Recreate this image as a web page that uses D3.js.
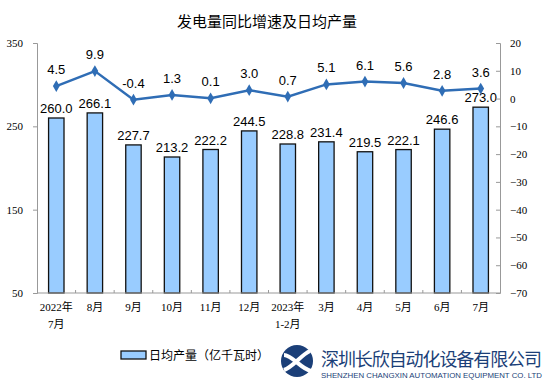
<!DOCTYPE html>
<html>
<head>
<meta charset="utf-8">
<script src="https://cdn.jsdelivr.net/npm/d3@7"></script>
<style>
  body { margin: 0; background: #fff; }
  svg { display: block; }
</style>
</head>
<body>
<svg id="chart" width="554" height="385"></svg>
<script>
// categories, two lines each
var months = [["2022年", "7月"], ["8月"], ["9月"], ["10月"], ["11月"], ["12月"],
              ["2023年", "1-2月"], ["3月"], ["4月"], ["5月"], ["6月"], ["7月"]];
var dailyOutput = [260.0, 266.1, 227.7, 213.2, 222.2, 244.5, 228.8, 231.4, 219.5, 222.1, 246.6, 273.0];
var yoyGrowth = [4.5, 9.9, -0.4, 1.3, 0.1, 3.0, 0.7, 5.1, 6.1, 5.6, 2.8, 3.6];
var leftTicks = [50, 150, 250, 350];
var rightTicks = [20, 10, 0, -10, -20, -30, -40, -50, -60, -70];

var svg = d3.select("#chart");
var margin = { top: 43, right: 54, bottom: 92, left: 37 };
var width = +svg.attr("width") - margin.left - margin.right;
var height = +svg.attr("height") - margin.top - margin.bottom;
var g = svg.append("g").attr("transform", "translate(" + margin.left + "," + margin.top + ")");

var keys = months.map(function(d, i) { return i; });

var x = d3.scaleBand()
    .domain(keys)
    .range([0, width]);

var yLeft = d3.scaleLinear()
    .domain([50, 350])
    .range([height, 0]);

var yRight = d3.scaleLinear()
    .domain([-70, 20])
    .range([height, 0]);

var axisFont = "'Liberation Serif', 'Noto Sans CJK SC', serif";
var labelFont = "'Liberation Sans', Arial, sans-serif";

// title
svg.append("text")
    .attr("x", 267)
    .attr("y", 27)
    .attr("text-anchor", "middle")
    .style("font-family", "'Noto Sans CJK SC', sans-serif")
    .style("font-size", "15px")
    .text("发电量同比增速及日均产量");

// Attach Bars
var barW = x.bandwidth() * 0.4;
g.selectAll("rect.bar")
    .data(dailyOutput)
    .enter().append("rect")
    .attr("class", "bar")
    .attr("x", function(d, i) { return x(i) + (x.bandwidth() - barW) / 2; })
    .attr("y", function(d) { return yLeft(d); })
    .attr("width", barW)
    .attr("height", function(d) { return height - yLeft(d); })
    .attr("fill", "#99ccff")
    .attr("stroke", "#111")
    .attr("stroke-width", 1.3);

g.selectAll("text.barlabel")
    .data(dailyOutput)
    .enter().append("text")
    .attr("class", "barlabel")
    .attr("x", function(d, i) { return x(i) + x.bandwidth() / 2; })
    .attr("y", function(d) { return yLeft(d) - 5; })
    .attr("text-anchor", "middle")
    .style("font-family", labelFont)
    .style("font-size", "13px")
    .text(function(d) { return d.toFixed(1); });

// Attach Line
var line = d3.line()
    .x(function(d, i) { return x(i) + x.bandwidth() / 2; })
    .y(function(d) { return yRight(d); });

g.append("path")
    .datum(yoyGrowth)
    .attr("fill", "none")
    .attr("stroke", "#2f6db5")
    .attr("stroke-width", 2.5)
    .attr("d", line);

g.selectAll("path.marker")
    .data(yoyGrowth)
    .enter().append("path")
    .attr("class", "marker")
    .attr("transform", function(d, i) { return "translate(" + (x(i) + x.bandwidth() / 2) + "," + yRight(d) + ")"; })
    .attr("d", d3.symbol().type(d3.symbolDiamond).size(40))
    .attr("fill", "#2f6db5");

g.selectAll("text.linelabel")
    .data(yoyGrowth)
    .enter().append("text")
    .attr("class", "linelabel")
    .attr("x", function(d, i) { return x(i) + x.bandwidth() / 2; })
    .attr("y", function(d) { return yRight(d) - 12; })
    .attr("text-anchor", "middle")
    .style("font-family", labelFont)
    .style("font-size", "13px")
    .text(function(d) { return d.toFixed(1); });

// Attach Left Axis
var leftAxis = g.append("g")
    .call(d3.axisLeft(yLeft).tickValues(leftTicks).tickSize(4).tickPadding(10));
leftAxis.select(".domain").attr("stroke", "#999");
leftAxis.selectAll(".tick line").attr("stroke", "#999");
leftAxis.selectAll(".tick text")
    .style("font-family", axisFont)
    .style("font-size", "11px");

// Attach Right Axis
var rightAxis = g.append("g")
    .attr("transform", "translate(" + width + ",0)")
    .call(d3.axisRight(yRight).tickValues(rightTicks).tickSize(-4).tickPadding(10));
rightAxis.select(".domain").attr("stroke", "#999");
rightAxis.selectAll(".tick line").attr("stroke", "#999");
rightAxis.selectAll(".tick text")
    .style("font-family", axisFont)
    .style("font-size", "11px");

// Attach X Axis
var bottom = g.append("g").attr("transform", "translate(0," + height + ")");
bottom.append("line")
    .attr("x1", 0).attr("x2", width)
    .attr("stroke", "#999");
bottom.selectAll("line.sep")
    .data(keys.slice(1))
    .enter().append("line")
    .attr("class", "sep")
    .attr("x1", function(d) { return x(d); })
    .attr("x2", function(d) { return x(d); })
    .attr("y1", 0).attr("y2", -3)
    .attr("stroke", "#999");

bottom.selectAll("text.cat")
    .data(months)
    .enter().append("text")
    .attr("class", "cat")
    .attr("x", function(d, i) { return x(i) + x.bandwidth() / 2; })
    .attr("y", 18)
    .attr("text-anchor", "middle")
    .style("font-family", axisFont)
    .style("font-size", "11px")
    .each(function(d) {
        var t = d3.select(this);
        d.forEach(function(s, j) {
            t.append("tspan")
                .attr("x", t.attr("x"))
                .attr("dy", j === 0 ? 0 : 17)
                .text(s);
        });
    });

// legend
svg.append("rect")
    .attr("x", 121).attr("y", 351)
    .attr("width", 25).attr("height", 8)
    .attr("fill", "#99ccff")
    .attr("stroke", "#111")
    .attr("stroke-width", 1.3);
svg.append("text")
    .attr("x", 149).attr("y", 359.5)
    .style("font-family", "'Noto Sans CJK SC', sans-serif")
    .style("font-size", "12px")
    .text("日均产量（亿千瓦时）");

// company mark
var mark = svg.append("g").attr("transform", "translate(297,361)");
mark.append("circle").attr("r", 16).attr("fill", "#1b3f78");
mark.append("path")
    .attr("d", "M-13,-6 C-5,-6 4,8 14,10 M-13,9 C-4,6 4,-6 13,-10")
    .attr("fill", "none")
    .attr("stroke", "#fff")
    .attr("stroke-width", 4);
svg.append("text")
    .attr("x", 321).attr("y", 366)
    .attr("textLength", 221)
    .style("font-family", "'Noto Sans CJK SC', sans-serif")
    .style("font-size", "18px")
    .attr("fill", "#1b3f78")
    .text("深圳长欣自动化设备有限公司");
svg.append("text")
    .attr("x", 321).attr("y", 378)
    .attr("textLength", 221)
    .attr("lengthAdjust", "spacingAndGlyphs")
    .style("font-family", "'Liberation Sans Narrow', 'Liberation Sans', sans-serif")
    .style("font-size", "8px")
    .attr("fill", "#1b3f78")
    .text("SHENZHEN CHANGXIN AUTOMATION EQUIPMENT CO. LTD");
</script>
</body>
</html>
